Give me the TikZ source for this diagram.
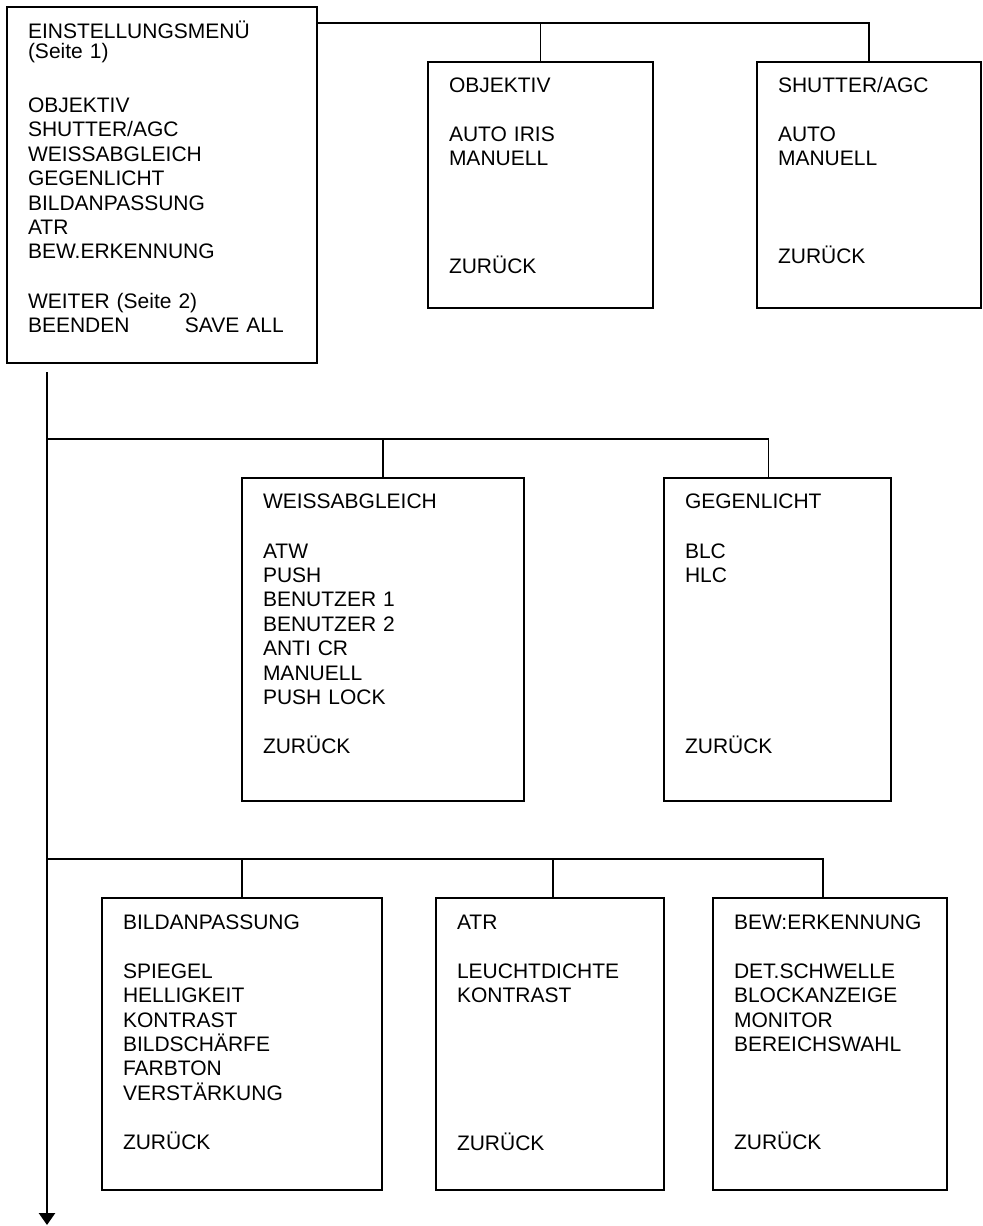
\documentclass[tikz,border=0pt]{standalone}
\usepackage{fontspec}
\setmainfont{Liberation Sans}
\usepackage{tikz}
\usetikzlibrary{arrows.meta}
\tikzset{
  menue/.style={
    rectangle, draw=black, line width=1pt, anchor=north west,
    inner xsep=10.5pt, inner ysep=0pt, text height=15pt,
    align=left, font=\fontsize{10.5pt}{12.2pt}\selectfont
  },
  ast/.style={line width=0.8pt, draw=black},
  hauptast/.style={-{Triangle[width=8pt,length=6pt]}, line width=1.3pt, draw=black}
}

\begin{document}
\begin{tikzpicture}[x=0.5pt, y=-0.5pt]
  \useasboundingbox (0,0) rectangle (982,1226);

  \node[menue, text width=134pt, text height=16pt, text depth=161.9pt] (haupt) at (6,6)
    {EINSTELLUNGSMEN\"U\\[-2.7pt]
     (Seite 1)\\[15pt]
     OBJEKTIV\\
     SHUTTER/AGC\\
     WEISSABGLEICH\\
     GEGENLICHT\\
     BILDANPASSUNG\\
     ATR\\
     BEW.ERKENNUNG\\[12.6pt]
     WEITER (Seite 2)\\
     \makebox[78.5pt][l]{BEENDEN}SAVE ALL};

  \node[menue, text width=91.5pt, text depth=108.2pt] (objektiv) at (427,61)
    {OBJEKTIV\\[12.5pt]
     AUTO IRIS\\
     MANUELL\\[41.5pt]
     ZUR\"UCK};
  \node[menue, text width=91pt, text depth=108.2pt] (shutter) at (756,61)
    {SHUTTER/AGC\\[12.5pt]
     AUTO\\
     MANUELL\\[36.5pt]
     ZUR\"UCK};

  \node[menue, text width=120pt, text depth=146.7pt] (weiss) at (241,477)
    {WEISSABGLEICH\\[12.8pt]
     ATW\\
     PUSH\\
     BENUTZER 1\\
     BENUTZER 2\\
     ANTI CR\\
     MANUELL\\
     PUSH LOCK\\[12.1pt]
     ZUR\"UCK};
  \node[menue, text width=92.5pt, text depth=146.7pt] (gegen) at (663,477)
    {GEGENLICHT\\[12.8pt]
     BLC\\
     HLC\\[73.1pt]
     ZUR\"UCK};

  \node[menue, text width=119pt, text height=15.6pt, text depth=130.4pt] (bildan) at (101,897)
    {BILDANPASSUNG\\[12.3pt]
     SPIEGEL\\
     HELLIGKEIT\\
     KONTRAST\\
     BILDSCH\"ARFE\\
     FARBTON\\
     VERST\"ARKUNG\\[12.6pt]
     ZUR\"UCK};
  \node[menue, text width=93pt, text height=15.6pt, text depth=130.4pt] (atr) at (435,897)
    {ATR\\[12.3pt]
     LEUCHTDICHTE\\
     KONTRAST\\[61.5pt]
     ZUR\"UCK};
  \node[menue, text width=96pt, text height=15.6pt, text depth=130.4pt] (bew) at (712,897)
    {BEW:ERKENNUNG\\[12.3pt]
     DET.SCHWELLE\\
     BLOCKANZEIGE\\
     MONITOR\\
     BEREICHSWAHL\\[37pt]
     ZUR\"UCK};

  \coordinate (zweig1) at (316,23);
  \coordinate (start) at (47,372);
  \coordinate (ende) at (47,1225);
  \coordinate (zweig2) at (47,439);
  \coordinate (zweig3) at (47,859);

  \draw[ast] (zweig1) -| (shutter.north);
  \draw[ast] (objektiv.north) -- (objektiv.north |- zweig1);

  \draw[hauptast] (start) -- (ende);

  \draw[ast] (zweig2) -| ([xshift=-4.5pt]gegen.north);
  \draw[ast] (weiss.north) -- (weiss.north |- zweig2);

  \draw[ast] (zweig3) -| ([xshift=-3.5pt]bew.north);
  \draw[ast] (bildan.north) -- (bildan.north |- zweig3);
  \draw[ast] ([xshift=1.5pt]atr.north) -- ([xshift=1.5pt]atr.north |- zweig3);
\end{tikzpicture}
\end{document}
